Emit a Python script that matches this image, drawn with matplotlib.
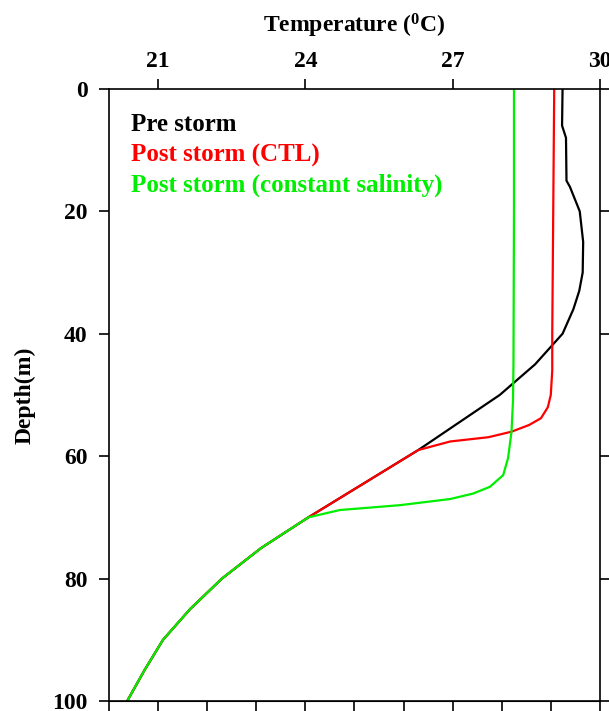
import numpy as np
import matplotlib
matplotlib.use("Agg")
import matplotlib.pyplot as plt

# depth (m) and temperature (C)
pre_depth = [0, 6, 8, 15, 16, 20, 25, 30, 33, 36, 40, 45, 50, 59, 70, 75, 80, 85, 90, 95, 100]
pre_temp = [29.24, 29.23, 29.31, 29.32, 29.39, 29.59, 29.66, 29.65, 29.58, 29.46, 29.24, 28.68, 27.96, 26.30, 24.06, 23.10, 22.30, 21.65, 21.10, 20.72, 20.37]

ctl_depth = [0, 20, 40, 46, 50, 52, 53.8, 54.9, 56, 56.9, 57.6, 59, 70, 75, 80, 85, 90, 95, 100]
ctl_temp = [29.07, 29.05, 29.03, 29.03, 29.0, 28.94, 28.8, 28.56, 28.2, 27.73, 26.95, 26.30, 24.06, 23.10, 22.30, 21.65, 21.10, 20.72, 20.37]

cs_depth = [0, 20, 45, 51, 56, 60.3, 63.1, 65, 66.1, 67, 68, 68.8, 70, 75, 80, 85, 90, 95, 100]
cs_temp = [28.25, 28.25, 28.24, 28.23, 28.2, 28.13, 28.03, 27.76, 27.42, 26.95, 25.93, 24.70, 24.06, 23.10, 22.30, 21.65, 21.10, 20.72, 20.37]

labels = ["Pre storm", "Post storm (CTL)", "Post storm (constant salinity)"]
colors = ["black", "#ff0000", "#00ee00"]

plt.rcParams['font.family'] = ['Liberation Serif', 'DejaVu Serif']
plt.rcParams['font.weight'] = 'bold'
plt.rcParams['mathtext.fontset'] = 'custom'
plt.rcParams['mathtext.rm'] = 'Liberation Serif:bold'
plt.rcParams['mathtext.it'] = 'Liberation Serif:bold'

fig = plt.figure(figsize=(6.09, 7.11), dpi=100)
ax = fig.add_axes([0.179, 0.014, 0.806, 0.861])

ax.plot(pre_temp, pre_depth, color=colors[0], lw=1.6, label=labels[0])
ax.plot(ctl_temp, ctl_depth, color=colors[1], lw=1.6, label=labels[1])
ax.plot(cs_temp, cs_depth, color=colors[2], lw=1.6, label=labels[2])

ax.set_xlim(20, 30)
ax.set_ylim(100, 0)

ax.xaxis.set_ticks_position('top')
ax.xaxis.set_label_position('top')
ax.set_xticks([21, 24, 27, 30])
ax.set_yticks([0, 20, 40, 60, 80, 100])
ax.tick_params(axis='both', direction='out', length=7.5, width=1.2, labelsize=17)
ax.tick_params(axis='x', pad=5)
ax.tick_params(axis='y', right=True, left=True, pad=8)
ax.set_xlabel(r"Temperature ($^0$C)", fontsize=17, fontweight='bold', labelpad=13)
ax.set_ylabel("Depth(m)", fontsize=17, fontweight='bold', labelpad=12)

# minor ticks along bottom edge
sec = ax.secondary_xaxis('bottom')
sec.set_xticks(np.arange(20, 31, 1))
sec.tick_params(direction='out', length=7.5, width=1.2, labelbottom=False)

for s in ax.spines.values():
    s.set_linewidth(1.2)

leg = ax.legend(loc='upper left', frameon=False, handlelength=0, handletextpad=0,
                fontsize=18, borderaxespad=0, borderpad=0, labelspacing=0.28,
                bbox_to_anchor=(0.045, 0.96))
for h in leg.legend_handles:
    h.set_visible(False)
for txt, c in zip(leg.get_texts(), colors):
    txt.set_color(c)

fig.savefig("out.png", dpi=100)
